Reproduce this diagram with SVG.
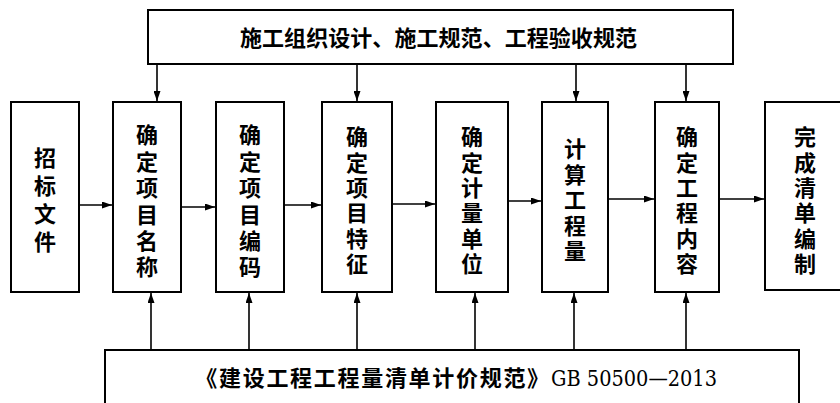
<svg xmlns="http://www.w3.org/2000/svg" width="840" height="403" viewBox="0 0 840 403">
<style>
.box{fill:#fff;stroke:#000;stroke-width:2}
.cn{font-family:"Noto Sans CJK SC","Noto Sans",sans-serif;font-weight:700;font-size:22px;fill:#000}
.v{writing-mode:vertical-rl;text-anchor:start}
.lat{font-family:"DejaVu Serif","Liberation Serif",serif;font-size:22px;fill:#000}
.ln{stroke:#000;stroke-width:1.6;fill:none;marker-end:url(#ah)}
</style>
<defs>
<marker id="ah" markerUnits="userSpaceOnUse" markerWidth="10" markerHeight="7" refX="10" refY="3.5" orient="auto">
<path d="M0,0 L10,3.5 L0,7 z" fill="#000"/>
</marker>
</defs>
<rect width="840" height="403" fill="#fff"/>
<g id="connectors">
<line class="ln" x1="157" y1="64" x2="157" y2="101"/>
<line class="ln" x1="357" y1="64" x2="357" y2="101"/>
<line class="ln" x1="576" y1="64" x2="576" y2="101"/>
<line class="ln" x1="686" y1="64" x2="686" y2="101"/>
<line class="ln" x1="79" y1="205" x2="112" y2="205"/>
<line class="ln" x1="181" y1="207" x2="215" y2="207"/>
<line class="ln" x1="284" y1="205" x2="321" y2="205"/>
<line class="ln" x1="392" y1="204" x2="435" y2="204"/>
<line class="ln" x1="508" y1="201" x2="541" y2="201"/>
<line class="ln" x1="608" y1="199" x2="654" y2="199"/>
<line class="ln" x1="719" y1="199" x2="764" y2="199"/>
<line class="ln" x1="151" y1="350" x2="151" y2="293"/>
<line class="ln" x1="249" y1="350" x2="249" y2="293"/>
<line class="ln" x1="357" y1="350" x2="357" y2="293"/>
<line class="ln" x1="475" y1="350" x2="475" y2="293"/>
<line class="ln" x1="574" y1="350" x2="574" y2="293"/>
<line class="ln" x1="686" y1="350" x2="686" y2="293"/>
</g>
<g id="top">
<rect class="box" x="148" y="10" width="585" height="54"/>
<text class="cn" x="240" y="46" textLength="397" lengthAdjust="spacing">施工组织设计、施工规范、工程验收规范</text>
</g>
<g id="n1">
<rect class="box" x="11" y="102" width="68" height="190"/>
<text class="cn v" x="45" y="147" letter-spacing="6">招标文件</text>
</g>
<g id="n2">
<rect class="box" x="113" y="102" width="68" height="190"/>
<text class="cn v" x="147" y="124" letter-spacing="4.4">确定项目名称</text>
</g>
<g id="n3">
<rect class="box" x="216" y="102" width="68" height="190"/>
<text class="cn v" x="250" y="124" letter-spacing="4.4">确定项目编码</text>
</g>
<g id="n4">
<rect class="box" x="322" y="102" width="70" height="190"/>
<text class="cn v" x="357" y="126" letter-spacing="3.3">确定项目特征</text>
</g>
<g id="n5">
<rect class="box" x="436" y="102" width="72" height="190"/>
<text class="cn v" x="472" y="126" letter-spacing="3.3">确定计量单位</text>
</g>
<g id="n6">
<rect class="box" x="542" y="102" width="66" height="190"/>
<text class="cn v" x="575" y="138" letter-spacing="3.5">计算工程量</text>
</g>
<g id="n7">
<rect class="box" x="655" y="102" width="64" height="190"/>
<text class="cn v" x="687" y="126" letter-spacing="3.3">确定工程内容</text>
</g>
<g id="n8">
<rect class="box" x="765" y="102" width="90" height="188"/>
<text class="cn v" x="805" y="126" letter-spacing="3.3">完成清单编制</text>
</g>
<g id="bottom">
<rect class="box" x="105" y="350" width="694" height="70"/>
<text class="cn" x="195.3" y="386" letter-spacing="1.7">《建设工程工程量清单计价规范》</text>
<text class="lat" x="551" y="386" textLength="166" lengthAdjust="spacingAndGlyphs">GB 50500—2013</text>
</g>
</svg>
